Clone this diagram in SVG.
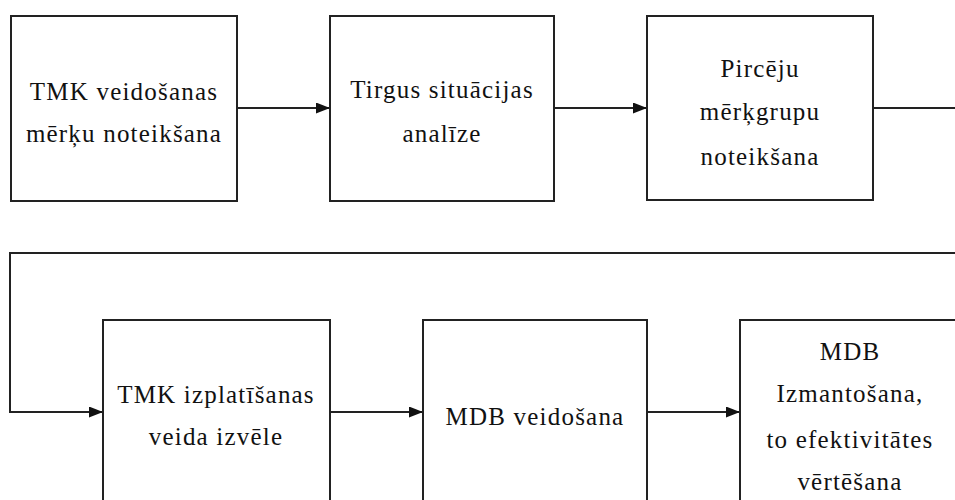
<svg xmlns="http://www.w3.org/2000/svg" width="955" height="500" viewBox="0 0 955 500">
  <style>
    .box { fill: #ffffff; stroke: #222222; stroke-width: 2; }
    .wire { fill: none; stroke: #222222; stroke-width: 2; }
    .lbl { font-family: "Liberation Serif", "Times New Roman", serif; font-size: 25px; letter-spacing: 1.2px; fill: #111111; text-anchor: middle; }
  </style>
  <defs>
    <marker id="arrow" viewBox="0 0 14 11" refX="14" refY="5.5" markerWidth="14" markerHeight="11" markerUnits="userSpaceOnUse" orient="auto">
      <path d="M0,0 L14,5.5 L0,11 Z" fill="#111111"/>
    </marker>
  </defs>
  <rect width="955" height="500" fill="#ffffff"/>

  <g id="connectors">
    <path class="wire" d="M237,108 H330" marker-end="url(#arrow)"/>
    <path class="wire" d="M554,108 H647" marker-end="url(#arrow)"/>
    <path class="wire" d="M873,108 H970 V253 H10 V412 H103" marker-end="url(#arrow)"/>
    <path class="wire" d="M330,412 H423" marker-end="url(#arrow)"/>
    <path class="wire" d="M647,412 H740" marker-end="url(#arrow)"/>
  </g>

  <g id="node1">
    <rect class="box" x="11" y="16" width="226" height="185"/>
    <text class="lbl" x="124" y="100">TMK veidošanas</text>
    <text class="lbl" x="124" y="142">mērķu noteikšana</text>
  </g>

  <g id="node2">
    <rect class="box" x="330" y="16" width="224" height="185"/>
    <text class="lbl" x="442" y="98">Tirgus situācijas</text>
    <text class="lbl" x="442" y="142">analīze</text>
  </g>

  <g id="node3">
    <rect class="box" x="647" y="16" width="226" height="184"/>
    <text class="lbl" x="760" y="77">Pircēju</text>
    <text class="lbl" x="760" y="120">mērķgrupu</text>
    <text class="lbl" x="760" y="165">noteikšana</text>
  </g>

  <g id="node4">
    <rect class="box" x="103" y="320" width="227" height="200"/>
    <text class="lbl" x="216" y="403">TMK izplatīšanas</text>
    <text class="lbl" x="216" y="445">veida izvēle</text>
  </g>

  <g id="node5">
    <rect class="box" x="423" y="320" width="224" height="200"/>
    <text class="lbl" x="535" y="425">MDB veidošana</text>
  </g>

  <g id="node6">
    <rect class="box" x="740" y="320" width="230" height="200"/>
    <text class="lbl" x="850" y="360">MDB</text>
    <text class="lbl" x="850" y="402">Izmantošana,</text>
    <text class="lbl" x="850" y="448">to efektivitātes</text>
    <text class="lbl" x="850" y="490">vērtēšana</text>
  </g>
</svg>
